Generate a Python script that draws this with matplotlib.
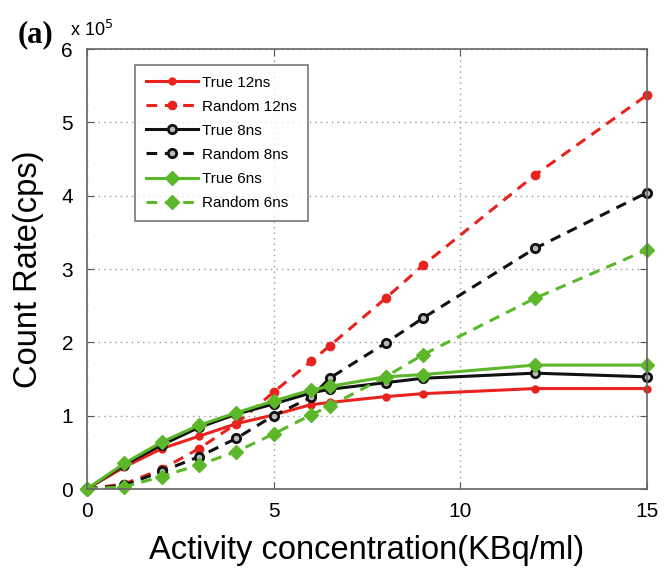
import matplotlib
matplotlib.use("Agg")
import matplotlib.pyplot as plt

x = [0, 1, 2, 3, 4, 5, 6, 6.5, 8, 9, 12, 15]
true_12 = [0, 0.30, 0.55, 0.72, 0.89, 1.01, 1.15, 1.18, 1.26, 1.30, 1.37, 1.37]
rand_12 = [0, 0.07, 0.27, 0.55, 0.89, 1.32, 1.74, 1.95, 2.60, 3.05, 4.28, 5.37]
true_8 = [0, 0.33, 0.60, 0.84, 1.02, 1.16, 1.31, 1.36, 1.45, 1.51, 1.58, 1.53]
rand_8 = [0, 0.05, 0.24, 0.44, 0.69, 1.00, 1.25, 1.51, 1.99, 2.33, 3.28, 4.04]
true_6 = [0, 0.35, 0.64, 0.87, 1.04, 1.20, 1.35, 1.40, 1.53, 1.56, 1.69, 1.69]
rand_6 = [0, 0.03, 0.17, 0.33, 0.51, 0.75, 1.01, 1.13, 1.53, 1.83, 2.60, 3.26]

plt.rcParams['font.family'] = ['Liberation Sans', 'DejaVu Sans']

fig = plt.figure(figsize=(6.64, 5.77), dpi=100)
ax = fig.add_axes([0.131, 0.1525, 0.843, 0.7625])

red = '#e8231f'
green = '#5cb82a'
black = '#111111'
lw = 2.2
ds = (3.5, 2.5)
ax.plot(x, true_12, '-', color=red, lw=lw, marker='o', ms=5, label='True 12ns', clip_on=False)
ax.plot(x, rand_12, '--', color=red, lw=lw, marker='o', ms=6, dashes=ds, label='Random 12ns', clip_on=False)
ax.plot(x, true_8, '-', color=black, lw=lw, marker='o', ms=6, mfc='#bbbbbb', mew=2, label='True 8ns', clip_on=False)
ax.plot(x, rand_8, '--', color=black, lw=lw, marker='o', ms=6, mfc='#bbbbbb', mew=2, dashes=ds, label='Random 8ns', clip_on=False)
ax.plot(x, true_6, '-', color=green, lw=lw, marker='D', ms=7, label='True 6ns', clip_on=False)
ax.plot(x, rand_6, '--', color=green, lw=lw, marker='D', ms=7, dashes=ds, label='Random 6ns', clip_on=False)

ax.set_xlim(0, 15)
ax.set_ylim(0, 6)
ax.set_xticks([0, 5, 10, 15])
ax.set_yticks([0, 1, 2, 3, 4, 5, 6])
ax.grid(True, linestyle=(0, (1, 3)), color='#999999', lw=1)
ax.tick_params(direction='in', top=True, right=True, labelsize=15, length=5, color='#555555', pad=9)
ax.tick_params(axis='y', pad=10)
for s in ax.spines.values():
    s.set_color('#666666')
    s.set_linewidth(1.2)

ax.set_xlabel('Activity concentration(KBq/ml)', fontsize=23.5)
ax.set_ylabel('Count Rate(cps)', fontsize=23.5)
ax.xaxis.set_label_coords(0.5, -0.105)
ax.yaxis.set_label_coords(-0.077, 0.5)

fig.text(0.026, 0.927, '(a)', fontsize=22, fontweight='bold', family='Liberation Serif')
fig.text(0.105, 0.938, r'x 10$^5$', fontsize=13)

leg = ax.legend(loc='upper left', bbox_to_anchor=(0.086, 0.964), fontsize=11,
                frameon=True, fancybox=False, edgecolor='#555555', handlelength=3.4,
                borderpad=0.7, labelspacing=0.66, handletextpad=0.3, borderaxespad=0)
leg.get_frame().set_linewidth(1.2)

fig.savefig('out.png', dpi=100)
